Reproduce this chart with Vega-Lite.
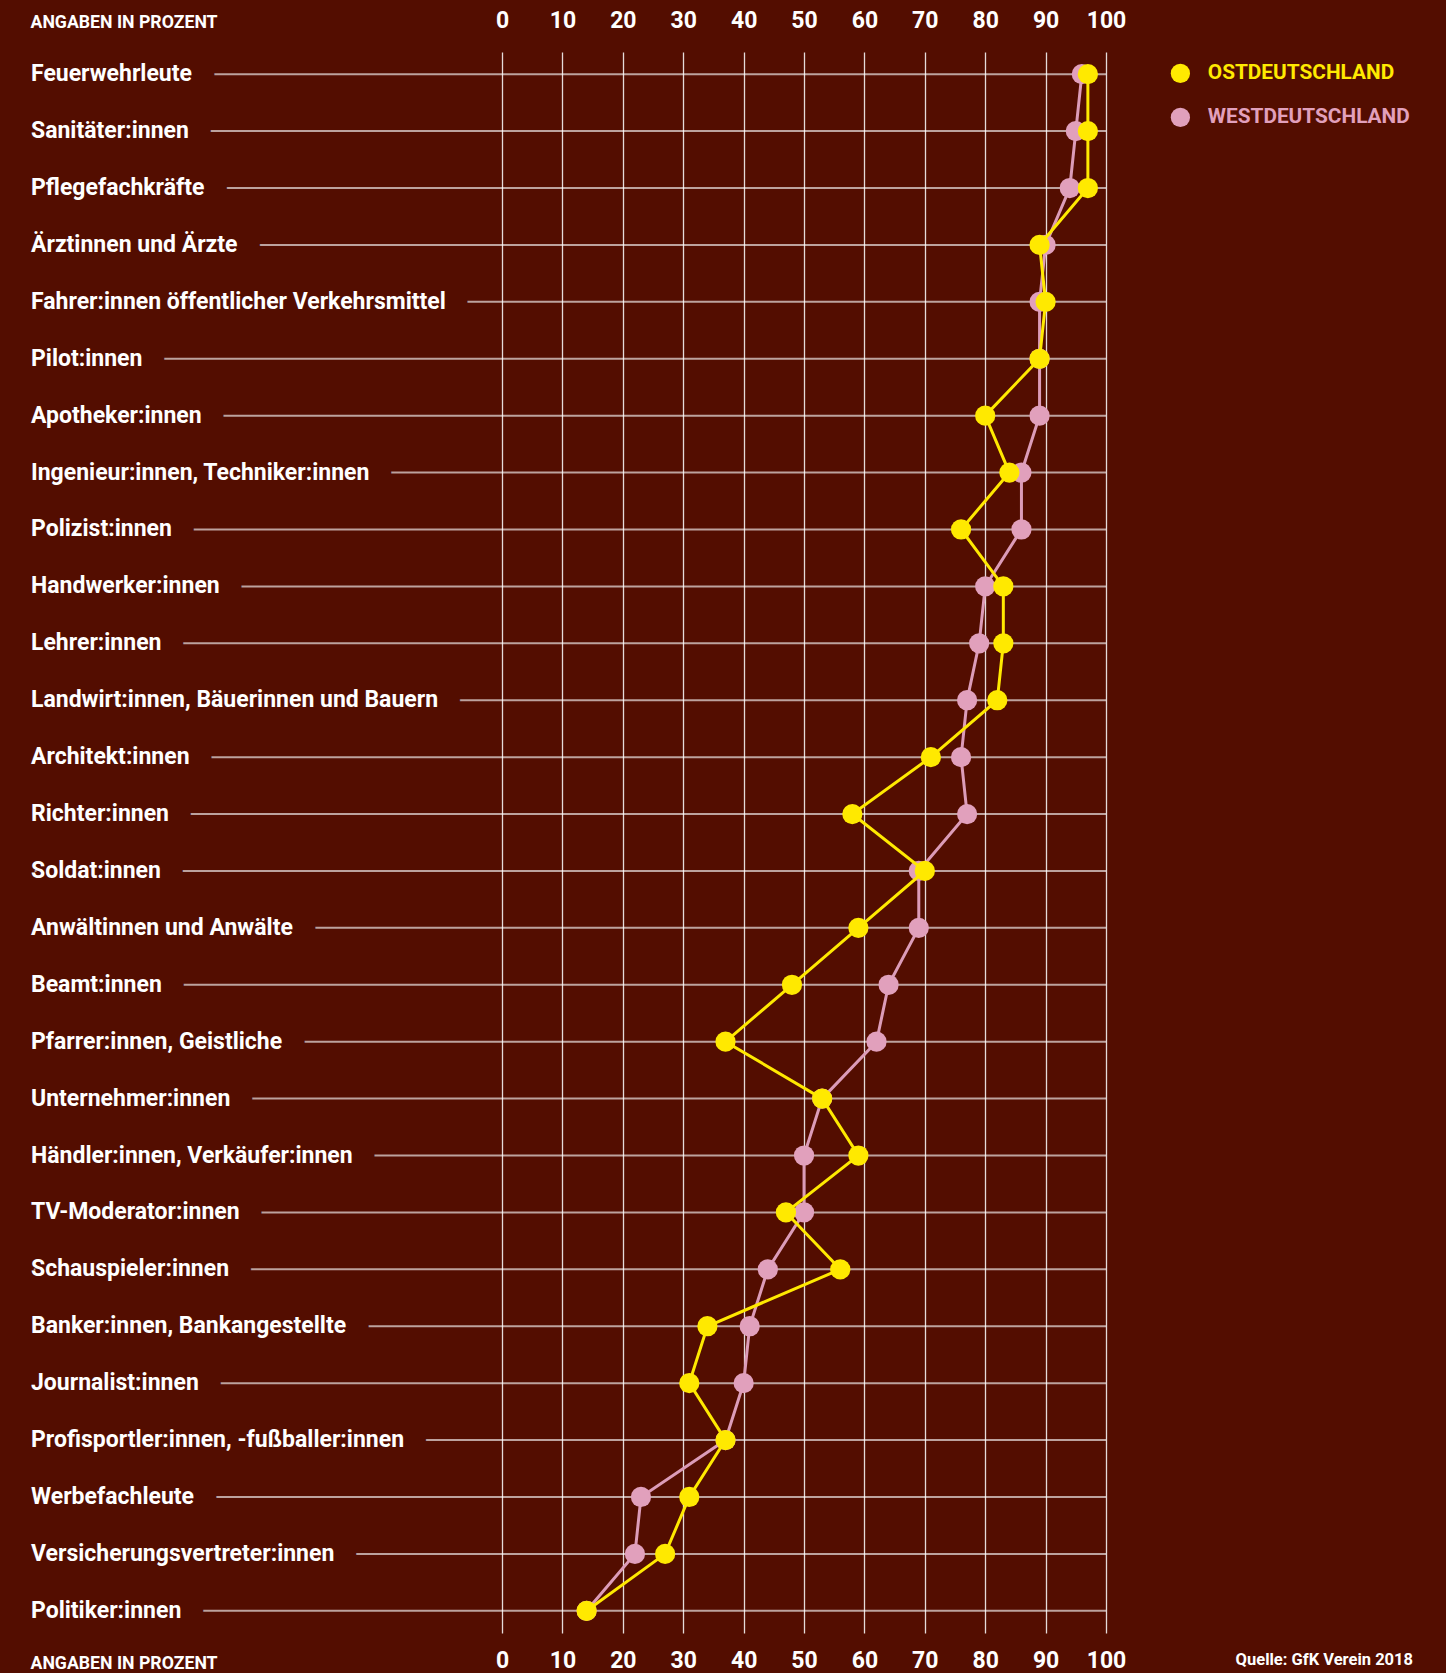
{
  "$schema": "https://vega.github.io/schema/vega-lite/v6.json",
  "width": 1075,
  "height": 1581,
  "autosize": {"type": "none"},
  "padding": {"left": 31, "top": 52, "right": 340, "bottom": 40},
  "background": "#530D00",
  "config": {"view": {"stroke": null}, "font": "Roboto"},
  "title": {"text": "Quelle: GfK Verein 2018", "orient": "bottom", "anchor": "end", "frame": "group", "dx": 307, "dy": -24, "color": "#ffffff", "fontSize": 16.5, "fontWeight": "bold", "font": "Roboto"},
  "data": {"values": [
    {"beruf": "Feuerwehrleute", "region": "Westdeutschland", "wert": 96},
    {"beruf": "Feuerwehrleute", "region": "Ostdeutschland", "wert": 97},
    {"beruf": "Sanitäter:innen", "region": "Westdeutschland", "wert": 95},
    {"beruf": "Sanitäter:innen", "region": "Ostdeutschland", "wert": 97},
    {"beruf": "Pflegefachkräfte", "region": "Westdeutschland", "wert": 94},
    {"beruf": "Pflegefachkräfte", "region": "Ostdeutschland", "wert": 97},
    {"beruf": "Ärztinnen und Ärzte", "region": "Westdeutschland", "wert": 90},
    {"beruf": "Ärztinnen und Ärzte", "region": "Ostdeutschland", "wert": 89},
    {"beruf": "Fahrer:innen öffentlicher Verkehrsmittel", "region": "Westdeutschland", "wert": 89},
    {"beruf": "Fahrer:innen öffentlicher Verkehrsmittel", "region": "Ostdeutschland", "wert": 90},
    {"beruf": "Pilot:innen", "region": "Westdeutschland", "wert": 89},
    {"beruf": "Pilot:innen", "region": "Ostdeutschland", "wert": 89},
    {"beruf": "Apotheker:innen", "region": "Westdeutschland", "wert": 89},
    {"beruf": "Apotheker:innen", "region": "Ostdeutschland", "wert": 80},
    {"beruf": "Ingenieur:innen, Techniker:innen", "region": "Westdeutschland", "wert": 86},
    {"beruf": "Ingenieur:innen, Techniker:innen", "region": "Ostdeutschland", "wert": 84},
    {"beruf": "Polizist:innen", "region": "Westdeutschland", "wert": 86},
    {"beruf": "Polizist:innen", "region": "Ostdeutschland", "wert": 76},
    {"beruf": "Handwerker:innen", "region": "Westdeutschland", "wert": 80},
    {"beruf": "Handwerker:innen", "region": "Ostdeutschland", "wert": 83},
    {"beruf": "Lehrer:innen", "region": "Westdeutschland", "wert": 79},
    {"beruf": "Lehrer:innen", "region": "Ostdeutschland", "wert": 83},
    {"beruf": "Landwirt:innen, Bäuerinnen und Bauern", "region": "Westdeutschland", "wert": 77},
    {"beruf": "Landwirt:innen, Bäuerinnen und Bauern", "region": "Ostdeutschland", "wert": 82},
    {"beruf": "Architekt:innen", "region": "Westdeutschland", "wert": 76},
    {"beruf": "Architekt:innen", "region": "Ostdeutschland", "wert": 71},
    {"beruf": "Richter:innen", "region": "Westdeutschland", "wert": 77},
    {"beruf": "Richter:innen", "region": "Ostdeutschland", "wert": 58},
    {"beruf": "Soldat:innen", "region": "Westdeutschland", "wert": 69},
    {"beruf": "Soldat:innen", "region": "Ostdeutschland", "wert": 70},
    {"beruf": "Anwältinnen und Anwälte", "region": "Westdeutschland", "wert": 69},
    {"beruf": "Anwältinnen und Anwälte", "region": "Ostdeutschland", "wert": 59},
    {"beruf": "Beamt:innen", "region": "Westdeutschland", "wert": 64},
    {"beruf": "Beamt:innen", "region": "Ostdeutschland", "wert": 48},
    {"beruf": "Pfarrer:innen, Geistliche", "region": "Westdeutschland", "wert": 62},
    {"beruf": "Pfarrer:innen, Geistliche", "region": "Ostdeutschland", "wert": 37},
    {"beruf": "Unternehmer:innen", "region": "Westdeutschland", "wert": 53},
    {"beruf": "Unternehmer:innen", "region": "Ostdeutschland", "wert": 53},
    {"beruf": "Händler:innen, Verkäufer:innen", "region": "Westdeutschland", "wert": 50},
    {"beruf": "Händler:innen, Verkäufer:innen", "region": "Ostdeutschland", "wert": 59},
    {"beruf": "TV-Moderator:innen", "region": "Westdeutschland", "wert": 50},
    {"beruf": "TV-Moderator:innen", "region": "Ostdeutschland", "wert": 47},
    {"beruf": "Schauspieler:innen", "region": "Westdeutschland", "wert": 44},
    {"beruf": "Schauspieler:innen", "region": "Ostdeutschland", "wert": 56},
    {"beruf": "Banker:innen, Bankangestellte", "region": "Westdeutschland", "wert": 41},
    {"beruf": "Banker:innen, Bankangestellte", "region": "Ostdeutschland", "wert": 34},
    {"beruf": "Journalist:innen", "region": "Westdeutschland", "wert": 40},
    {"beruf": "Journalist:innen", "region": "Ostdeutschland", "wert": 31},
    {"beruf": "Profisportler:innen, -fußballer:innen", "region": "Westdeutschland", "wert": 37},
    {"beruf": "Profisportler:innen, -fußballer:innen", "region": "Ostdeutschland", "wert": 37},
    {"beruf": "Werbefachleute", "region": "Westdeutschland", "wert": 23},
    {"beruf": "Werbefachleute", "region": "Ostdeutschland", "wert": 31},
    {"beruf": "Versicherungsvertreter:innen", "region": "Westdeutschland", "wert": 22},
    {"beruf": "Versicherungsvertreter:innen", "region": "Ostdeutschland", "wert": 27},
    {"beruf": "Politiker:innen", "region": "Westdeutschland", "wert": 14},
    {"beruf": "Politiker:innen", "region": "Ostdeutschland", "wert": 14}
  ]},
  "encoding": {
    "y": {"field": "beruf", "type": "nominal", "sort": null, "scale": {"type": "point", "padding": 0.39}, "axis": null}
  },
  "layer": [
    {
      "transform": [{"filter": "datum.region === 'Ostdeutschland'"}],
      "mark": {"type": "rule", "color": "#ffffff", "opacity": 0.62, "strokeWidth": 2},
      "encoding": {
        "x": {"datum": -78, "type": "quantitative", "scale": {"domain": [-78, 100], "nice": false, "zero": false}, "axis": null},
        "x2": {"datum": 100}
      }
    },
    {
      "transform": [{"filter": "datum.region === 'Ostdeutschland'"}],
      "mark": {"type": "text", "align": "left", "baseline": "middle", "fontSize": 23, "fontWeight": "bold", "font": "Roboto", "fill": "#530D00", "stroke": "#530D00", "strokeWidth": 46, "strokeJoin": "round"},
      "encoding": {
        "x": {"datum": -78, "type": "quantitative", "axis": null},
        "text": {"field": "beruf"}
      }
    },
    {
      "transform": [{"filter": "datum.region === 'Ostdeutschland'"}],
      "mark": {"type": "text", "align": "left", "baseline": "middle", "fontSize": 23, "fontWeight": "bold", "font": "Roboto", "fill": "#ffffff"},
      "encoding": {
        "x": {"datum": -78, "type": "quantitative", "axis": null},
        "text": {"field": "beruf"}
      }
    },
    {
      "transform": [{"filter": "datum.region === 'Westdeutschland'"}],
      "mark": {"type": "line", "color": "#DC9CB8", "strokeWidth": 3},
      "encoding": {
        "x": {"field": "wert", "type": "quantitative", "axis": null},
        "order": {"value": null}
      }
    },
    {
      "transform": [{"filter": "datum.region === 'Westdeutschland'"}],
      "mark": {"type": "circle", "size": 410, "opacity": 1},
      "encoding": {
        "x": {"field": "wert", "type": "quantitative", "axis": {
          "orient": "top", "values": [0, 10, 20, 30, 40, 50, 60, 70, 80, 90, 100],
          "domain": false, "ticks": false, "tickSize": 0,
          "grid": true, "gridColor": "#ffffff", "gridOpacity": 0.85, "gridWidth": 1.3,
          "labelColor": "#ffffff", "labelFont": "Roboto", "labelFontSize": 23, "labelFontWeight": "bold",
          "labelBaseline": "alphabetic", "labelPadding": 25, "labelFlush": false, "labelOverlap": false,
          "title": "ANGABEN IN PROZENT", "titleColor": "#ffffff", "titleFont": "Roboto", "titleFontSize": 17.7, "titleFontWeight": "bold",
          "titleX": -1, "titleY": -25, "titleAlign": "left", "titleAnchor": "start", "titleBaseline": "alphabetic"
        }},
        "color": {"field": "region", "type": "nominal",
          "scale": {"domain": ["Ostdeutschland", "Westdeutschland"], "range": ["#FFE900", "#E1A0BC"]},
          "legend": {"orient": "none", "legendX": 1139, "legendY": 11, "title": null, "padding": 0,
            "symbolType": "circle", "symbolSize": 370, "symbolStrokeWidth": 0, "symbolOpacity": 1,
            "labelExpr": "upper(datum.label)", "labelFont": "Roboto", "labelFontSize": 20.8, "labelFontWeight": "bold",
            "labelOffset": 17, "labelLimit": 0, "rowPadding": 22, "labelColor": "#ffffff",
            "encode": {"labels": {"update": {"fill": {"signal": "datum.value === 'Ostdeutschland' ? '#FFE900' : '#E1A0BC'"}}}}
          }
        }
      }
    },
    {
      "transform": [{"filter": "datum.region === 'Ostdeutschland'"}],
      "mark": {"type": "line", "color": "#FFE900", "strokeWidth": 3},
      "encoding": {
        "x": {"field": "wert", "type": "quantitative", "axis": null},
        "order": {"value": null}
      }
    },
    {
      "transform": [{"filter": "datum.region === 'Ostdeutschland'"}],
      "mark": {"type": "circle", "size": 410, "opacity": 1},
      "encoding": {
        "x": {"field": "wert", "type": "quantitative", "axis": {
          "orient": "bottom", "values": [0, 10, 20, 30, 40, 50, 60, 70, 80, 90, 100],
          "domain": false, "ticks": false, "tickSize": 0, "grid": false,
          "labelColor": "#ffffff", "labelFont": "Roboto", "labelFontSize": 23, "labelFontWeight": "bold",
          "labelBaseline": "alphabetic", "labelPadding": 34, "labelFlush": false, "labelOverlap": false,
          "title": "ANGABEN IN PROZENT", "titleColor": "#ffffff", "titleFont": "Roboto", "titleFontSize": 17.7, "titleFontWeight": "bold",
          "titleX": -1, "titleY": 35, "titleAlign": "left", "titleAnchor": "start", "titleBaseline": "alphabetic"
        }},
        "color": {"field": "region", "type": "nominal",
          "scale": {"domain": ["Ostdeutschland", "Westdeutschland"], "range": ["#FFE900", "#E1A0BC"]},
          "legend": {"orient": "none", "legendX": 1139, "legendY": 11, "title": null, "padding": 0,
            "symbolType": "circle", "symbolSize": 370, "symbolStrokeWidth": 0, "symbolOpacity": 1,
            "labelExpr": "upper(datum.label)", "labelFont": "Roboto", "labelFontSize": 20.8, "labelFontWeight": "bold",
            "labelOffset": 17, "labelLimit": 0, "rowPadding": 22, "labelColor": "#ffffff",
            "encode": {"labels": {"update": {"fill": {"signal": "datum.value === 'Ostdeutschland' ? '#FFE900' : '#E1A0BC'"}}}}
          }
        }
      }
    }
  ],
  "resolve": {"axis": {"x": "independent"}}
}
